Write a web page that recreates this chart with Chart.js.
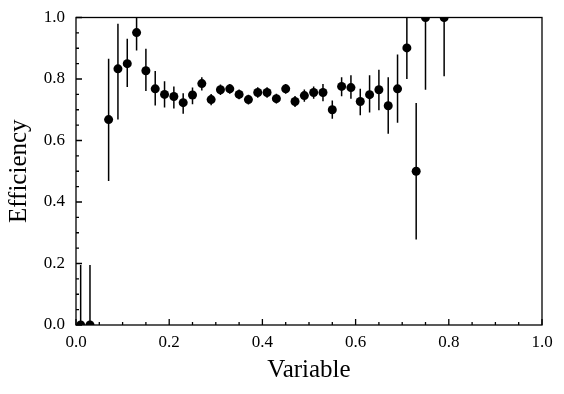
<!DOCTYPE html>
<html>
<head>
<meta charset="utf-8">
<script src="https://cdn.jsdelivr.net/npm/chart.js@4.4.1/dist/chart.umd.min.js"></script>
<style>
  html, body { margin: 0; padding: 0; background: #fff; }
  #wrap { width: 564px; height: 394px; }
</style>
</head>
<body>
<div id="wrap"><canvas id="chart" width="564" height="394"></canvas></div>
<script>
/* ── Data ─────────────────────────────────────────────────── */

const xValues = [
  0.01, 0.03, 0.07, 0.09, 0.11, 0.13, 0.15, 0.17, 0.19, 0.21,
  0.23, 0.25, 0.27, 0.29, 0.31, 0.33, 0.35, 0.37, 0.39, 0.41,
  0.43, 0.45, 0.47, 0.49, 0.51, 0.53, 0.55, 0.57, 0.59, 0.61,
  0.63, 0.65, 0.67, 0.69, 0.71, 0.73, 0.75, 0.79,
];

const efficiency = [
  0.0, 0.0, 0.668, 0.833, 0.85, 0.951, 0.827, 0.768, 0.75, 0.743,
  0.723, 0.748, 0.785, 0.733, 0.765, 0.768, 0.75, 0.733, 0.756, 0.756,
  0.736, 0.768, 0.727, 0.746, 0.756, 0.756, 0.70, 0.776, 0.772, 0.727,
  0.749, 0.765, 0.713, 0.768, 0.901, 0.5, 1.0, 1.0,
];

const errLow = [
  0.0, 0.0, 0.20, 0.165, 0.076, 0.058, 0.066, 0.054, 0.043, 0.039,
  0.036, 0.030, 0.022, 0.018, 0.017, 0.016, 0.016, 0.016, 0.017, 0.017,
  0.016, 0.016, 0.018, 0.02, 0.02, 0.028, 0.029, 0.032, 0.036, 0.045,
  0.058, 0.067, 0.091, 0.11, 0.101, 0.222, 0.235, 0.191,
];

const errHigh = [
  0.195, 0.195, 0.198, 0.147, 0.081, 0.05, 0.071, 0.058, 0.043, 0.033,
  0.031, 0.024, 0.021, 0.018, 0.017, 0.016, 0.016, 0.016, 0.017, 0.017,
  0.016, 0.016, 0.018, 0.02, 0.02, 0.028, 0.03, 0.03, 0.04, 0.041,
  0.063, 0.065, 0.093, 0.112, 0.1, 0.222, 0.0, 0.0,
];

const majorTicks = [0, 0.2, 0.4, 0.6, 0.8, 1.0];
const minorStep = 0.05;

/* ── Plugins ──────────────────────────────────────────────── */

const FONT = '"Liberation Serif", "DejaVu Serif", serif';

// error bars, drawn under the markers
const errorBars = {
  id: 'errorBars',
  beforeDatasetsDraw(chart) {
    const { ctx, chartArea, scales } = chart;
    ctx.save();
    ctx.beginPath();
    ctx.rect(chartArea.left, chartArea.top, chartArea.width, chartArea.height);
    ctx.clip();
    ctx.strokeStyle = '#000';
    ctx.lineWidth = 1.5;
    xValues.forEach((x, i) => {
      const px = scales.x.getPixelForValue(x);
      const y0 = scales.y.getPixelForValue(efficiency[i] - errLow[i]);
      const y1 = scales.y.getPixelForValue(efficiency[i] + errHigh[i]);
      ctx.beginPath();
      ctx.moveTo(px, y0);
      ctx.lineTo(px, y1);
      ctx.stroke();
    });
    ctx.restore();
  },
};

// frame + inward major/minor ticks on bottom and left
const frameTicks = {
  id: 'frameTicks',
  afterDraw(chart) {
    const { ctx, chartArea, scales } = chart;
    const { left, right, top, bottom } = chartArea;
    ctx.save();
    ctx.strokeStyle = '#000';
    ctx.lineWidth = 1.3;
    const isMajor = (v) => majorTicks.some((m) => Math.abs(m - v) < 1e-6);
    for (let k = 0; k <= 20; k++) {
      const v = k * minorStep;
      const len = isMajor(v) ? 6 : 3;
      const px = scales.x.getPixelForValue(v);
      const py = scales.y.getPixelForValue(v);
      ctx.beginPath();
      ctx.moveTo(px, bottom);
      ctx.lineTo(px, bottom - len);
      ctx.moveTo(left, py);
      ctx.lineTo(left + len, py);
      ctx.stroke();
    }
    ctx.strokeRect(left, top, right - left, bottom - top);
    ctx.restore();
  },
};

/* ── Chart ────────────────────────────────────────────────── */

const points = xValues.map((x, i) => ({ x, y: efficiency[i] }));

new Chart(document.getElementById('chart'), {
  type: 'scatter',
  data: {
    datasets: [{
      data: points,
      backgroundColor: '#000',
      borderColor: '#000',
      pointRadius: 4.5,
      pointHoverRadius: 4.5,
      borderWidth: 0,
      clip: 0,
    }],
  },
  options: {
    responsive: false,
    animation: false,
    events: [],
    layout: { padding: { left: 4, right: 22, top: 17.5, bottom: 6 } },
    plugins: {
      legend: { display: false },
      tooltip: { enabled: false },
    },
    scales: {
      x: {
        type: 'linear',
        min: 0,
        max: 1,
        afterBuildTicks: (scale) => { scale.ticks = majorTicks.map((v) => ({ value: v })); },
        afterFit: (scale) => { scale.height = 394 - 325 - 6; },
        grid: { display: false, drawTicks: false },
        border: { display: false },
        ticks: {
          padding: 7,
          color: '#000',
          font: { family: FONT, size: 17 },
          callback: (v) => Number(v).toFixed(1),
          maxRotation: 0,
        },
        title: {
          display: true,
          text: 'Variable',
          color: '#000',
          font: { family: FONT, size: 25 },
          padding: { top: 0, bottom: 3 },
        },
      },
      y: {
        type: 'linear',
        min: 0,
        max: 1,
        afterBuildTicks: (scale) => { scale.ticks = majorTicks.map((v) => ({ value: v })); },
        afterFit: (scale) => {
          scale.width = 76 - 4;
          // label overhang is covered by layout padding
          scale.paddingTop = 0;
          scale.paddingBottom = 0;
        },
        grid: { display: false, drawTicks: false },
        border: { display: false },
        ticks: {
          padding: 11,
          color: '#000',
          font: { family: FONT, size: 17 },
          callback: (v) => Number(v).toFixed(1),
        },
        title: {
          display: true,
          text: 'Efficiency',
          color: '#000',
          font: { family: FONT, size: 25 },
          padding: { top: 0, bottom: 0 },
        },
      },
    },
  },
  plugins: [errorBars, frameTicks],
});
</script>
</body>
</html>
